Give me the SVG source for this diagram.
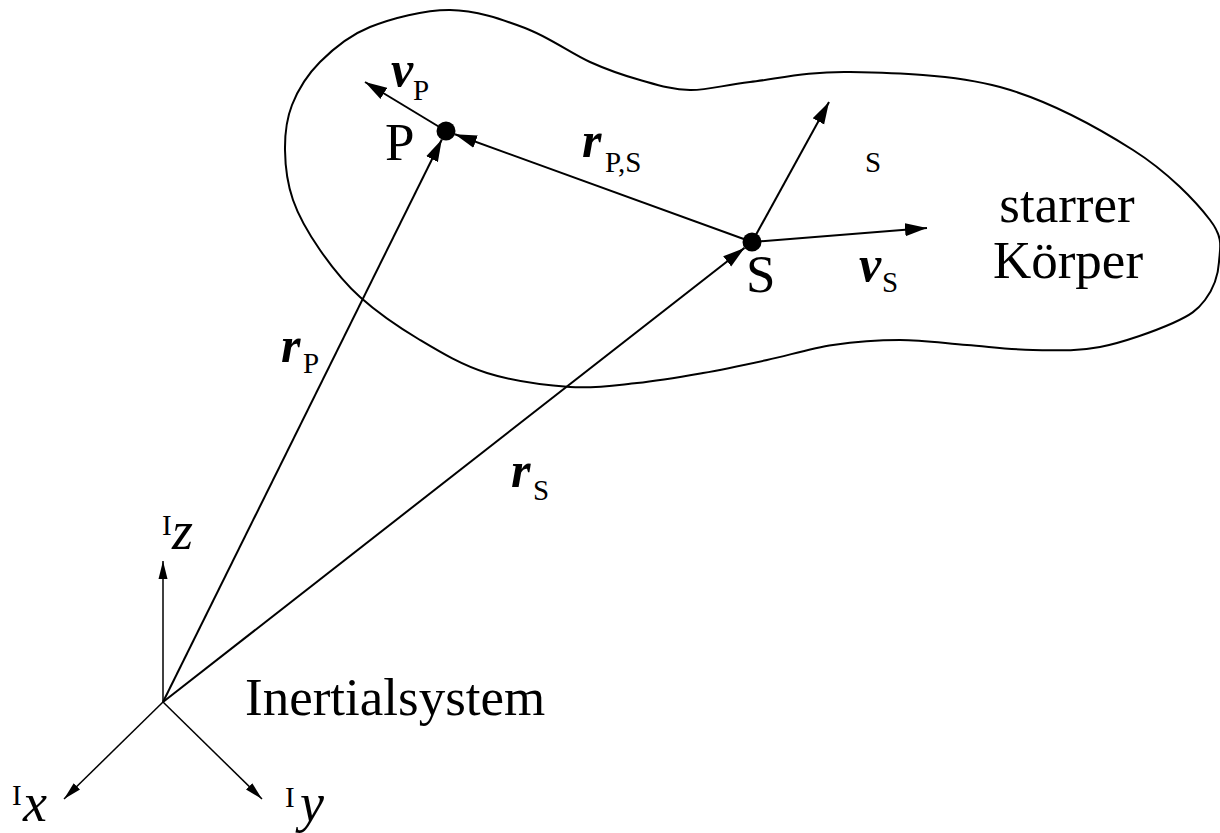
<svg xmlns="http://www.w3.org/2000/svg" width="1220" height="833" viewBox="0 0 1220 833">
<style>
  .ln { fill: none; stroke: #000; stroke-width: 2; }
  .ax { fill: none; stroke: #000; stroke-width: 1.5; }
  .dot { fill: #000; }
  text { font-family: "Liberation Serif", "Times New Roman", serif; fill: #000; }
  .big { font-size: 53px; }
  .vec { font-size: 50px; font-weight: bold; font-style: italic; }
  .sub { font-size: 29px; }
  .it { font-size: 54px; font-style: italic; }
</style>
<defs>
  <marker id="ah" markerUnits="userSpaceOnUse" markerWidth="24" markerHeight="14" viewBox="0 0 24 14" refX="22" refY="7" orient="auto">
    <path d="M0,0.5 L22,7 L0,13.5 Z" fill="#000"/>
  </marker>
  <marker id="ahs" markerUnits="userSpaceOnUse" markerWidth="19" markerHeight="11" viewBox="0 0 19 11" refX="18" refY="5.5" orient="auto">
    <path d="M0,1 L18,5.5 L0,10 Z" fill="#000"/>
  </marker>
</defs>

<g id="body">
  <path class="ln" d="M 450,10 C 475.8,10.2 501.7,19.3 525,28 C 548.3,36.7 570.8,53.3 590,62 C 609.2,70.7 623.3,75.3 640,80 C 656.7,84.7 671.7,89.7 690,90 C 708.3,90.3 723.3,85 750,82 C 776.7,79 808.3,71.2 850,72 C 891.7,72.8 952.8,74 1000,87 C 1047.2,100 1098,127.8 1133,150 C 1168,172.2 1195.7,201.3 1210,220 C 1224.3,238.7 1219.8,248.7 1219,262 C 1218.2,275.3 1212.7,289.8 1205,300 C 1197.3,310.2 1190.5,315.2 1173,323 C 1155.5,330.8 1123.3,342.5 1100,347 C 1076.7,351.5 1055.2,350.3 1033,350 C 1010.8,349.7 989.2,346.7 967,345 C 944.8,343.3 922.3,340 900,340 C 877.7,340 855.2,341.7 833,345 C 810.8,348.3 788.7,355.3 767,360 C 745.3,364.7 724.7,369.2 703,373 C 681.3,376.8 659.2,380.7 637,383 C 614.8,385.3 595,388.7 570,387 C 545,385.3 512,380.8 487,373 C 462,365.2 441.2,352.7 420,340 C 398.8,327.3 376.7,312 360,297 C 343.3,282 331.2,266.2 320,250 C 308.8,233.8 298.8,216.7 293,200 C 287.2,183.3 285.2,165.8 285,150 C 284.8,134.2 286.2,119.7 292,105 C 297.8,90.3 307,75 320,62 C 333,49 348.3,35.7 370,27 C 391.7,18.3 424.2,9.8 450,10 Z"/>
  <text class="big" x="1067" y="222" text-anchor="middle">starrer</text>
  <text class="big" x="1068" y="278" text-anchor="middle">Körper</text>
</g>

<g id="connectors">
  <line id="rP" class="ln" x1="163" y1="702" x2="441.8" y2="139.5" marker-end="url(#ah)"/>
  <line id="rS" class="ln" x1="163" y1="702" x2="744.5" y2="247.9" marker-end="url(#ah)"/>
  <line id="rPS" class="ln" x1="752" y1="242" x2="454.9" y2="134.2" marker-end="url(#ah)"/>
  <line id="vP" class="ln" x1="446" y1="131" x2="365" y2="82" marker-end="url(#ah)"/>
  <line id="sAxis" class="ln" x1="752" y1="242" x2="829" y2="102" marker-end="url(#ah)"/>
  <line id="vS" class="ln" x1="752" y1="242" x2="927" y2="228" marker-end="url(#ah)"/>
  <line id="Iz" class="ax" x1="163" y1="702" x2="163" y2="561" marker-end="url(#ahs)"/>
  <line id="Ix" class="ax" x1="163" y1="702" x2="64" y2="799" marker-end="url(#ahs)"/>
  <line id="Iy" class="ax" x1="163" y1="702" x2="262" y2="799" marker-end="url(#ahs)"/>
</g>

<g id="point-P">
  <circle class="dot" cx="446" cy="131" r="9.5"/>
  <text class="big" x="385" y="160">P</text>
</g>

<g id="point-S">
  <circle class="dot" cx="752" cy="242" r="9.5"/>
  <text class="big" x="746" y="292">S</text>
</g>

<g id="labels">
  <text><tspan class="vec" x="391" y="86">v</tspan><tspan class="sub" x="413" y="100">P</tspan></text>
  <text><tspan class="vec" x="582" y="157">r</tspan><tspan class="sub" x="605" y="172">P,S</tspan></text>
  <text class="sub" x="865" y="172">S</text>
  <text><tspan class="vec" x="859" y="281">v</tspan><tspan class="sub" x="882" y="292">S</tspan></text>
  <text><tspan class="vec" x="281" y="362">r</tspan><tspan class="sub" x="303" y="373">P</tspan></text>
  <text><tspan class="vec" x="511" y="487">r</tspan><tspan class="sub" x="533" y="500">S</tspan></text>
</g>

<g id="inertial">
  <text class="big" x="245" y="715">Inertialsystem</text>
  <text><tspan class="sub" x="162" y="535">I</tspan><tspan class="it" x="172" y="549">z</tspan></text>
  <text><tspan class="sub" x="12" y="805">I</tspan><tspan class="it" x="23" y="821">x</tspan></text>
  <text><tspan class="sub" x="285" y="807">I</tspan><tspan class="it" x="300" y="821">y</tspan></text>
</g>
</svg>
